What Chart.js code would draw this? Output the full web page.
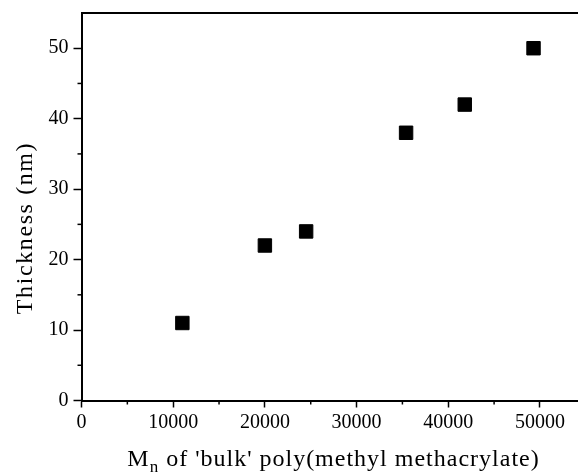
<!DOCTYPE html>
<html>
<head>
<meta charset="utf-8">
<script src="https://cdn.jsdelivr.net/npm/chart.js@4/dist/chart.umd.min.js"></script>
<style>
  html, body { margin: 0; padding: 0; background: #fff; }
  #wrap { width: 578px; height: 475px; position: relative; overflow: hidden; }
</style>
</head>
<body>
<div id="wrap"><canvas id="c" width="578" height="475"></canvas></div>
<script>
// Data
const molecularWeights = [11000, 20000, 24500, 35400, 41800, 49300];
const thicknessNm      = [11, 22, 24, 38, 42, 50];
const xTickValues = [0, 10000, 20000, 30000, 40000, 50000];
const yTickValues = [0, 10, 20, 30, 40, 50];
const xMinorTicks = [5000, 15000, 25000, 35000, 45000];
const yMinorTicks = [5, 15, 25, 35, 45];
const yTitle = 'Thickness (nm)';
const xTitleMain = 'M';
const xTitleSub = 'n';
const xTitleRest = " of 'bulk' poly(methyl methacrylate)";

const FONT = '"Liberation Serif", "Times New Roman", serif';

const points = molecularWeights.map((x, i) => ({ x: x, y: thicknessNm[i] }));

const extras = {
  id: 'extras',
  afterDraw(chart) {
    const ctx = chart.ctx;
    const xs = chart.scales.x, ys = chart.scales.y;
    const ca = chart.chartArea;
    ctx.save();
    ctx.strokeStyle = '#000';
    // top frame line
    ctx.lineWidth = 2;
    ctx.beginPath();
    ctx.moveTo(ca.left, ca.top);
    ctx.lineTo(ca.right, ca.top);
    ctx.stroke();
    // minor ticks
    ctx.lineWidth = 1.5;
    xMinorTicks.forEach(v => {
      const px = xs.getPixelForValue(v);
      ctx.beginPath();
      ctx.moveTo(px, ca.bottom);
      ctx.lineTo(px, ca.bottom + 4);
      ctx.stroke();
    });
    yMinorTicks.forEach(v => {
      const py = ys.getPixelForValue(v);
      ctx.beginPath();
      ctx.moveTo(ca.left - 4, py);
      ctx.lineTo(ca.left, py);
      ctx.stroke();
    });
    ctx.fillStyle = '#000';
    // y title (rotated)
    ctx.save();
    ctx.font = '24px ' + FONT;
    ctx.letterSpacing = '1.6px';
    ctx.textAlign = 'center';
    ctx.textBaseline = 'alphabetic';
    ctx.translate(31.5, 228);
    ctx.rotate(-Math.PI / 2);
    ctx.fillText(yTitle, 0, 0);
    ctx.restore();
    // x title with subscript
    ctx.textBaseline = 'alphabetic';
    ctx.letterSpacing = '1px';
    const big = '24px ' + FONT, small = '17px ' + FONT;
    ctx.font = big;
    const wM = ctx.measureText(xTitleMain).width;
    const wR = ctx.measureText(xTitleRest).width;
    ctx.font = small;
    const wS = ctx.measureText(xTitleSub).width;
    const total = wM + wS + wR;
    const cx = 333.5;
    let x0 = cx - total / 2;
    const base = 466;
    ctx.textAlign = 'left';
    ctx.font = big;
    ctx.fillText(xTitleMain, x0, base);
    ctx.font = small;
    ctx.fillText(xTitleSub, x0 + wM, base + 6);
    ctx.font = big;
    ctx.fillText(xTitleRest, x0 + wM + wS, base);
    ctx.letterSpacing = '0px';
    ctx.restore();
  }
};

new Chart(document.getElementById('c'), {
  type: 'scatter',
  data: {
    datasets: [{
      data: points,
      pointStyle: 'rect',
      pointRadius: 9.5,
      pointHoverRadius: 9.5,
      backgroundColor: '#000',
      borderColor: '#000',
      borderWidth: 1
    }]
  },
  options: {
    responsive: false,
    animation: false,
    events: [],
    layout: { autoPadding: false, padding: { top: 13, right: 0, bottom: 0, left: 0 } },
    plugins: { legend: { display: false }, tooltip: { enabled: false } },
    scales: {
      x: {
        type: 'linear',
        min: 0,
        max: 54150,
        afterBuildTicks(s) { s.ticks = xTickValues.map(v => ({ value: v })); },
        afterFit(s) { s.height = 74.5; s.paddingLeft = 0; s.paddingRight = 0; },
        grid: { display: true, drawOnChartArea: false, drawTicks: true, tickLength: 7, tickWidth: 1.5, tickColor: '#000' },
        border: { display: true, color: '#000', width: 2 },
        ticks: {
          color: '#000',
          padding: 3,
          maxRotation: 0,
          autoSkip: false,
          font: { family: FONT, size: 20 },
          callback: v => String(v)
        }
      },
      y: {
        type: 'linear',
        min: 0,
        max: 55,
        afterBuildTicks(s) { s.ticks = yTickValues.map(v => ({ value: v })); },
        afterFit(s) { s.width = 81.5; s.paddingTop = 0; s.paddingBottom = 0; },
        grid: { display: true, drawOnChartArea: false, drawTicks: true, tickLength: 8, tickWidth: 1.5, tickColor: '#000' },
        border: { display: true, color: '#000', width: 2 },
        ticks: {
          color: '#000',
          padding: 5,
          autoSkip: false,
          font: { family: FONT, size: 20 },
          callback: v => String(v)
        }
      }
    }
  },
  plugins: [extras]
});
</script>
</body>
</html>
